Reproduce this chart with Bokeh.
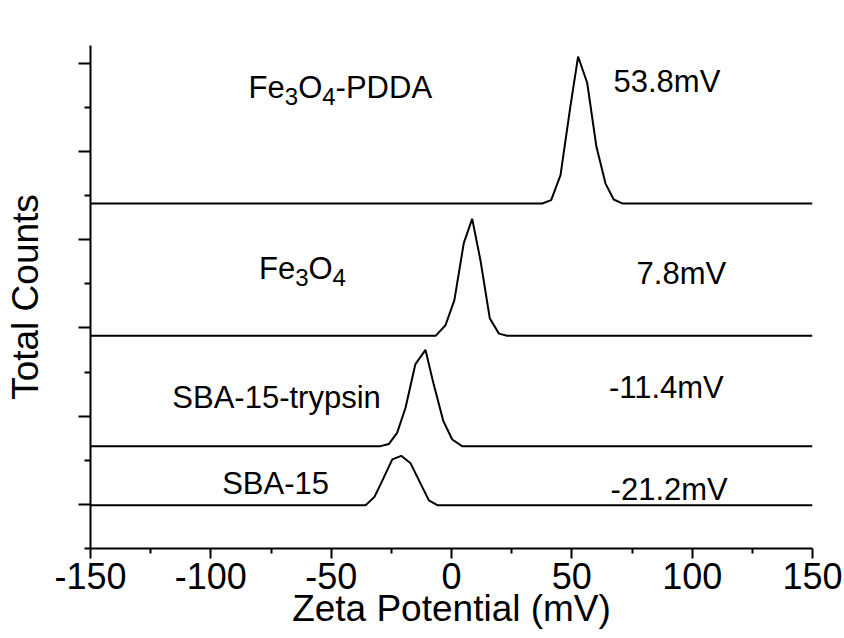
from bokeh.plotting import figure
from bokeh.models import FixedTicker, Label
from bokeh.embed import file_html
from bokeh.resources import INLINE

# ---- data ----
x_min, x_max = -150, 150
x_ticks = [-150, -100, -50, 0, 50, 100, 150]
x_tick_labels = ["-150", "-100", "-50", "0", "50", "100", "150"]
x_minor = [-125, -75, -25, 25, 75, 125]
y_major = [1, 3, 5, 7, 9, 11]
y_minor = [0, 2, 4, 6, 8, 10]

sba_x = [-150, -35.7, -32.0, -28.3, -24.6, -20.9, -17.0, -13.2, -9.4, -5.7, 150]
sba_y = [0, 0, 0.19, 0.61, 1.04, 1.12, 0.95, 0.53, 0.11, 0, 0]
sba_offset = 0.98

tryp_x = [-150, -29.5, -26.0, -22.6, -19.1, -15.0, -10.8, -7.4, -3.4, 0.3, 4.4, 150]
tryp_y = [0, 0, 0.05, 0.30, 0.87, 1.86, 2.18, 1.40, 0.57, 0.15, 0, 0]
tryp_offset = 2.32

fe_x = [-150, -6.6, -2.5, 1.2, 5.1, 8.6, 12.0, 15.9, 19.7, 23.1, 150]
fe_y = [0, 0, 0.24, 0.81, 2.10, 2.65, 1.72, 0.40, 0.05, 0, 0]
fe_offset = 4.82

pdda_x = [-150, 37.7, 41.4, 45.3, 49.4, 52.6, 56.4, 60.2, 64.0, 67.4, 70.9, 150]
pdda_y = [0, 0, 0.075, 0.64, 2.2, 3.33, 2.73, 1.29, 0.45, 0.09, 0, 0]
pdda_offset = 7.82

# sample names as (text, is_subscript) pieces
names = [
    [("Fe", False), ("3", True), ("O", False), ("4", True), ("-PDDA", False)],
    [("Fe", False), ("3", True), ("O", False), ("4", True)],
    [("SBA-15-trypsin", False)],
    [("SBA-15", False)],
]
name_x = [-84.3, -80.0, -116.0, -95.3]
name_y = [10.45, 6.35, 3.42, 1.48]
zeta = ["53.8mV", "7.8mV", "-11.4mV", "-21.2mV"]
zeta_x = [67.3, 76.9, 65.4, 66.1]
zeta_y = [10.575, 6.23, 3.64, 1.33]

FONT = "Liberation Sans"
BIG = 31
SUB = 24
# Arial / Liberation Sans advance widths (em)
ADV = {"F": .611, "e": .556, "O": .778, "3": .556, "4": .556, "-": .333,
       "P": .667, "D": .722, "A": .667}

p = figure(width=844, height=638, output_backend="svg", toolbar_location=None,
           x_range=(x_min, x_max), y_range=(0, 11.4),
           min_border_left=90, min_border_right=32, min_border_top=45, min_border_bottom=90)
p.outline_line_color = None
p.xgrid.visible = False
p.ygrid.visible = False
p.background_fill_color = "white"
p.border_fill_color = "white"

for xs, ys, off in [(sba_x, sba_y, sba_offset), (tryp_x, tryp_y, tryp_offset),
                    (fe_x, fe_y, fe_offset), (pdda_x, pdda_y, pdda_offset)]:
    p.line(xs, [y + off for y in ys], line_color="black", line_width=2)

for pieces, x, y in zip(names, name_x, name_y):
    dx = 0.0
    for txt, sub in pieces:
        size = SUB if sub else BIG
        p.add_layout(Label(x=x, y=y, x_offset=dx, y_offset=-9 if sub else 0, text=txt,
                           text_font=FONT, text_font_size=f"{size}px", text_color="black",
                           text_baseline="alphabetic", text_align="left"))
        dx += sum(ADV.get(c, .556) for c in txt) * size
for t, x, y in zip(zeta, zeta_x, zeta_y):
    p.add_layout(Label(x=x, y=y, text=t, text_font=FONT, text_font_size=f"{BIG}px",
                       text_color="black", text_baseline="alphabetic", text_align="left"))

xa = p.xaxis[0]
xa.ticker = FixedTicker(ticks=x_ticks, minor_ticks=x_minor)
xa.major_label_overrides = {v: s for v, s in zip(x_ticks, x_tick_labels)}
xa.axis_label = "Zeta Potential (mV)"
xa.axis_label_text_font = FONT
xa.axis_label_text_font_style = "normal"
xa.axis_label_text_font_size = "37px"
xa.axis_label_text_color = "black"
xa.axis_label_standoff = -4
xa.major_label_text_font = FONT
xa.major_label_text_font_size = "36px"
xa.major_label_text_color = "black"
xa.major_label_standoff = 4
xa.axis_line_width = 2
xa.axis_line_color = "black"
xa.major_tick_line_width = 2
xa.minor_tick_line_width = 2
xa.major_tick_out = 10
xa.major_tick_in = 0
xa.minor_tick_out = 5
xa.minor_tick_in = 0

ya = p.yaxis[0]
ya.ticker = FixedTicker(ticks=y_major, minor_ticks=y_minor)
ya.axis_label = "Total Counts"
ya.axis_label_text_font = FONT
ya.axis_label_text_font_style = "normal"
ya.axis_label_text_font_size = "37px"
ya.axis_label_text_color = "black"
ya.axis_label_standoff = 33
ya.major_label_text_font_size = "0px"
ya.major_label_standoff = 0
ya.axis_line_width = 2
ya.axis_line_color = "black"
ya.major_tick_line_width = 2
ya.minor_tick_line_width = 2
ya.major_tick_out = 12
ya.major_tick_in = 0
ya.minor_tick_out = 6
ya.minor_tick_in = 0

open("out.html", "w").write(file_html(p, INLINE))
